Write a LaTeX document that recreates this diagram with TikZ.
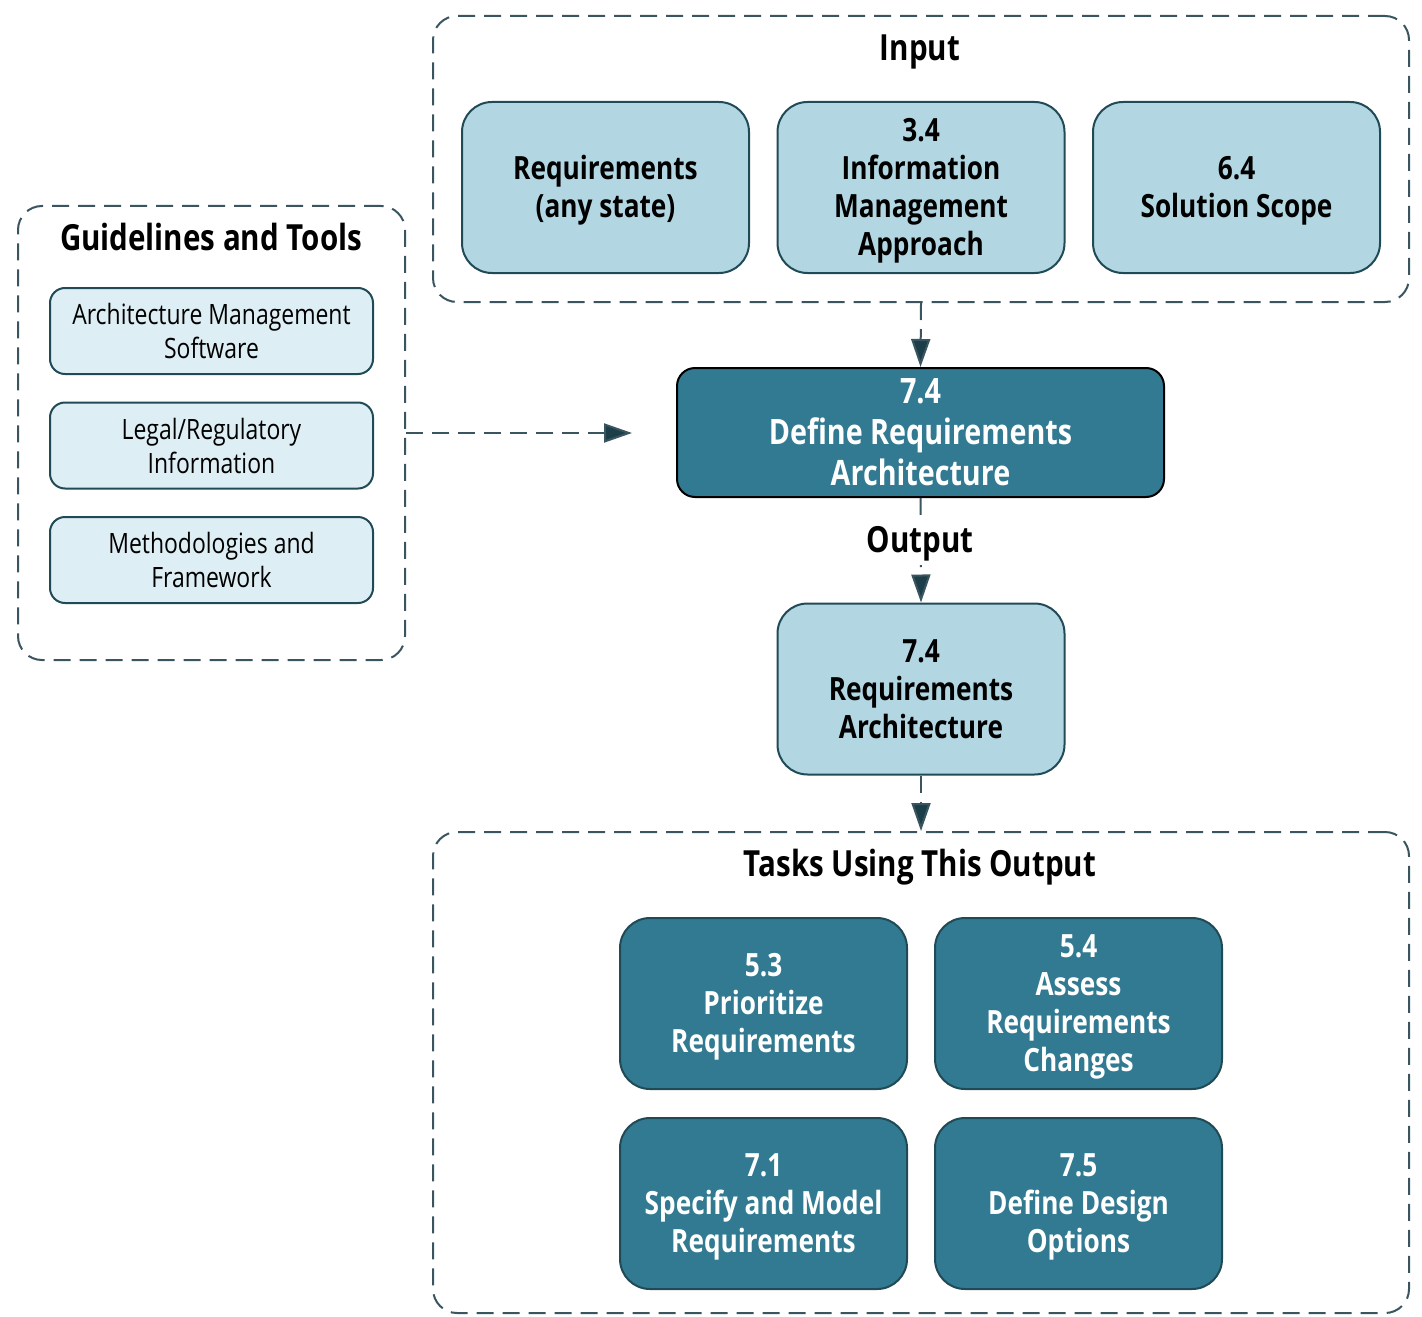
\documentclass[tikz,border=0pt]{standalone}
\usepackage{fontspec}
\setmainfont[FakeStretch=0.82]{Open Sans}
\usetikzlibrary{arrows.meta}
\definecolor{lightfill}{HTML}{B2D7E3}
\definecolor{palefill}{HTML}{DEEEF5}
\definecolor{darkfill}{HTML}{317A91}
\definecolor{boxborder}{HTML}{214A57}
\definecolor{dashcol}{HTML}{3A5560}
\definecolor{arrowcol}{HTML}{1B3E48}
\newcommand\tstr{\rule{0pt}{0.95em}}
\tikzset{
  struts/.style={execute at begin node={\rule{0pt}{0.94em}}, execute at end node={\rule[-0.24em]{0pt}{0pt}}},
  container/.style={draw=dashcol, line width=1pt, dash pattern=on 8.5pt off 4.5pt, rounded corners=12pt, inner sep=0pt},
  inbox/.style={draw=boxborder, line width=1pt, fill=lightfill, rounded corners=15pt, minimum width=143.5pt, minimum height=85.5pt, inner sep=0pt, align=center, font=\bfseries\fontsize{16}{19}\selectfont},
  taskbox/.style={draw=boxborder, line width=1pt, fill=darkfill, rounded corners=15pt, minimum width=143.5pt, minimum height=85.5pt, inner sep=0pt, align=center, text=white, font=\bfseries\fontsize{16}{19}\selectfont},
  toolbox/.style={draw=boxborder, line width=1pt, fill=palefill, rounded corners=7.5pt, minimum width=161.5pt, minimum height=43pt, inner sep=0pt, align=center, font=\fontsize{14}{17}\selectfont},
  mainbox/.style={draw=black, line width=1pt, fill=darkfill, rounded corners=9pt, minimum width=243.5pt, minimum height=64.5pt, inner sep=0pt, align=center, text=white, font=\bfseries\fontsize{17.5}{20.5}\selectfont},
  title/.style={struts, font=\bfseries\fontsize{18}{20}\selectfont, inner sep=1pt},
  dasharrow/.style={draw=dashcol, line width=1pt, dash pattern=on 8.5pt off 4.5pt, -{Triangle[width=9.5pt,length=14pt,fill=arrowcol]}},
}
\begin{document}
\begin{tikzpicture}[x=0.5pt,y=-0.5pt]
\useasboundingbox (0,0) rectangle (1422,1316);
% containers
\node[container, minimum width=488pt, minimum height=143pt] (input) at (921,159) {};
\node[container, minimum width=193.5pt, minimum height=227pt] (guide) at (211.5,433) {};
\node[container, minimum width=488pt, minimum height=240.5pt] (tasks) at (921,1072.5) {};
% titles
\node[title] (inputtitle) at (920,48) {Input};
\node[title] (guidetitle) at (211,238) {Guidelines and Tools};
\node[title] (taskstitle) at (920,864) {Tasks Using This Output};
% input boxes
\node[inbox] (req) at (605.5,187.5) {\tstr Requirements\\(any state)};
\node[inbox] (info) at (921,187.5) {\tstr 3.4\\Information\\Management\\Approach};
\node[inbox] (scope) at (1236.5,187.5) {\tstr 6.4\\Solution Scope};
% tools
\node[toolbox] (ams) at (211.5,331) {Architecture Management\\Software};
\node[toolbox] (legal) at (211.5,445.5) {Legal/Regulatory\\Information};
\node[toolbox] (meth) at (211.5,560) {Methodologies and\\Framework};
% main
\node[mainbox] (main) at (920.5,432.5) {7.4\\Define Requirements\\Architecture};
% output
\node[inbox] (out) at (921,689) {7.4\\Requirements\\Architecture};
% tasks
\node[taskbox] (t53) at (763.5,1003.5) {\tstr 5.3\\Prioritize\\Requirements};
\node[taskbox] (t54) at (1078.5,1003.5) {\tstr 5.4\\Assess\\Requirements\\Changes};
\node[taskbox] (t71) at (763.5,1203.5) {\tstr 7.1\\Specify and Model\\Requirements};
\node[taskbox] (t75) at (1078.5,1203.5) {\tstr 7.5\\Define Design\\Options};
% connectors
\coordinate (guidetip) at (632,433);
\draw[dasharrow] (input.south) -- (main.north);
\draw[dasharrow] (guide.east) -- (guidetip);
\draw[dasharrow] (main.south) -- (out.north);
\node[title, fill=white, inner sep=2pt] (outlabel) at (920,540) {Output};
\draw[dasharrow] (out.south) -- (tasks.north);
\end{tikzpicture}
\end{document}
